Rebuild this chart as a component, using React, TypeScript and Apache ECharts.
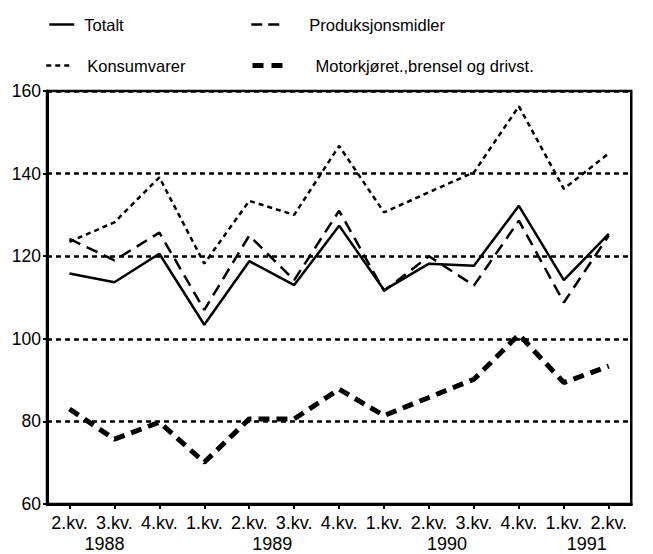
import { useEffect, useRef } from "react";
import * as echarts from "echarts";

const periods = [
  "2.kv. 1988", "3.kv. 1988", "4.kv. 1988",
  "1.kv. 1989", "2.kv. 1989", "3.kv. 1989", "4.kv. 1989",
  "1.kv. 1990", "2.kv. 1990", "3.kv. 1990", "4.kv. 1990",
  "1.kv. 1991", "2.kv. 1991",
];
const quarterLabels = ["2.kv.", "3.kv.", "4.kv.", "1.kv.", "2.kv.", "3.kv.", "4.kv.", "1.kv.", "2.kv.", "3.kv.", "4.kv.", "1.kv.", "2.kv."];
const yearLabels = ["1988", "", "", "", "1989", "", "", "", "1990", "", "", "", "1991"];

const totalt = [115.8, 113.7, 120.6, 103.4, 118.8, 113.0, 127.4, 111.8, 118.2, 117.7, 132.2, 114.2, 125.4];
const produksjonsmidler = [124.2, 119.0, 125.7, 107.0, 125.0, 114.2, 131.0, 111.6, 120.0, 112.9, 128.6, 108.8, 125.0];
const konsumvarer = [123.5, 128.2, 139.1, 118.2, 133.4, 130.0, 146.7, 130.6, 135.5, 140.3, 156.3, 136.3, 144.9];
const motorkjoretoy = [83.0, 75.7, 79.8, 70.1, 80.6, 80.6, 87.8, 81.4, 85.8, 90.2, 101.0, 89.4, 93.4];

const Y_MIN = 60;
const Y_MAX = 160;
const Y_STEP = 20;

const AXIS_FONT = "'Liberation Sans', Arial, sans-serif";
const LEGEND_FONT = "'Liberation Sans', Arial, sans-serif";

export default function App() {
  const ref = useRef<HTMLDivElement>(null);

  useEffect(() => {
    if (!ref.current) return;
    const chart = echarts.init(ref.current, null, { renderer: "svg" });

    const yearRich = (pad: number[]) => ({
      fontSize: 18,
      fontFamily: AXIS_FONT,
      color: "#000",
      lineHeight: 21,
      padding: pad,
    });

    const legendBase = (
      name: string,
      left: number,
      top: number,
      width: number,
      gap: number,
      lineWidth: number,
      lineType: any
    ) => ({
      show: true,
      data: [name],
      left,
      top,
      orient: "horizontal",
      itemWidth: width,
      itemHeight: 14,
      selectedMode: false,
      padding: 0,
      itemStyle: { opacity: 0, borderWidth: 0 },
      lineStyle: { color: "#000", width: lineWidth, type: lineType, cap: "butt" },
      textStyle: {
        fontFamily: LEGEND_FONT,
        fontSize: 16.5,
        color: "#000",
        padding: [0, 0, 0, gap],
      },
    });

    const option: any = {
      animation: false,
      backgroundColor: "#fff",
      legend: [
        legendBase("Totalt", 48, 16, 25, 5, 2.5, "solid"),
        legendBase("Konsumvarer", 45, 57, 23, 13, 2.5, [5, 4]),
        legendBase("Produksjonsmidler", 250, 16, 28, 25, 2.5, [11, 6]),
        legendBase("Motorkjøret.,brensel og drivst.", 250, 57, 30, 28, 5, [11, 8]),
      ],
      grid: {
        left: 47,
        right: 1,
        top: 91,
        bottom: 47,
        show: true,
        borderColor: "#000",
        borderWidth: 2.5,
        backgroundColor: "transparent",
      },
      xAxis: {
        type: "category",
        data: periods,
        boundaryGap: true,
        axisLine: { show: true, lineStyle: { color: "#000", width: 3 } },
        axisTick: { show: true, alignWithLabel: true, length: 5, lineStyle: { color: "#000", width: 2 } },
        splitLine: { show: false },
        axisLabel: {
          interval: 0,
          margin: 8,
          color: "#000",
          fontSize: 18,
          fontFamily: AXIS_FONT,
          lineHeight: 21,
          formatter: (_v: string, idx: number) => {
            const y = yearLabels[idx];
            return y ? `${quarterLabels[idx]}\n{y${idx}|${y}}` : quarterLabels[idx];
          },
          rich: {
            y0: yearRich([0, 0, 0, 70]),
            y4: yearRich([0, 0, 0, 46]),
            y8: yearRich([0, 0, 0, 36]),
            y12: yearRich([0, 44, 0, 0]),
          },
        },
      },
      yAxis: {
        type: "value",
        min: Y_MIN,
        max: Y_MAX,
        interval: Y_STEP,
        axisLine: { show: true, lineStyle: { color: "#000", width: 3 } },
        axisTick: { show: true, length: 4, lineStyle: { color: "#000", width: 2 } },
        axisLabel: {
          color: "#000",
          fontSize: 17.5,
          fontFamily: AXIS_FONT,
          margin: 6,
        },
        splitLine: {
          show: true,
          lineStyle: { color: "#000", width: 2.5, type: [5, 4] },
        },
      },
      series: [
        {
          name: "Totalt",
          type: "line",
          data: totalt,
          symbol: "none",
          lineStyle: { color: "#000", width: 2.5, type: "solid" },
          itemStyle: { color: "#000" },
          z: 5,
        },
        {
          name: "Produksjonsmidler",
          type: "line",
          data: produksjonsmidler,
          symbol: "none",
          lineStyle: { color: "#000", width: 2.5, type: [12, 7] },
          itemStyle: { color: "#000" },
          z: 4,
        },
        {
          name: "Konsumvarer",
          type: "line",
          data: konsumvarer,
          symbol: "none",
          lineStyle: { color: "#000", width: 2.5, type: [5, 4] },
          itemStyle: { color: "#000" },
          z: 3,
        },
        {
          name: "Motorkjøret.,brensel og drivst.",
          type: "line",
          data: motorkjoretoy,
          symbol: "none",
          lineStyle: { color: "#000", width: 5, type: [11, 7] },
          itemStyle: { color: "#000" },
          z: 3,
        },
      ],
    };

    chart.setOption(option);
    return () => {
      chart.dispose();
    };
  }, []);

  return (
    <div
      ref={ref}
      style={{ position: "fixed", left: 0, top: 0, width: 653, height: 554, background: "#fff" }}
    />
  );
}
